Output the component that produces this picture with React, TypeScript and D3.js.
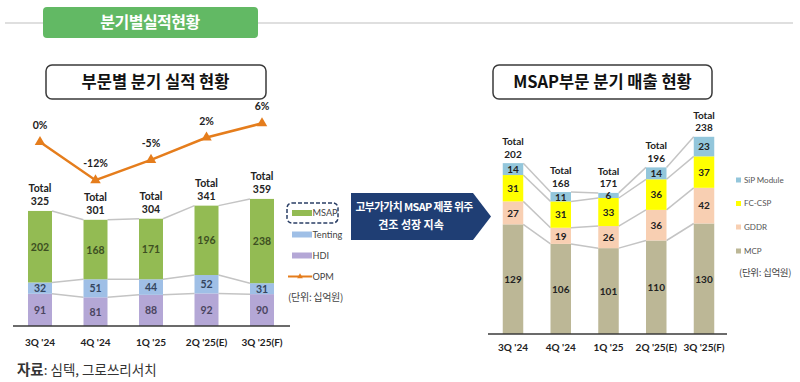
import React from "react";
import * as d3 from "d3";

const quarters = ["3Q '24", "4Q '24", "1Q '25", "2Q '25(E)", "3Q '25(F)"];
const hdi = [91, 81, 88, 92, 90];
const tenting = [32, 51, 44, 52, 31];
const msap = [202, 168, 171, 196, 238];
const totalLeft = [325, 301, 304, 341, 359];
const opm = [0.2, -11.6, -5.3, 1.6, 6.0];

const mcp = [129, 106, 101, 110, 130];
const gddr = [27, 19, 26, 36, 42];
const fccsp = [31, 31, 33, 36, 37];
const sip = [14, 11, 6, 14, 23];
const totalRight = [202, 168, 171, 196, 238];

const leftSeries = [
  { name: "HDI", values: hdi, color: "#b4a7d6", text: "#4a4560" },
  { name: "Tenting", values: tenting, color: "#9fbfe6", text: "#34455e" },
  { name: "MSAP", values: msap, color: "#93bb53", text: "#3d4f22" },
];
const rightSeries = [
  { name: "MCP", values: mcp, color: "#bcb796" },
  { name: "GDDR", values: gddr, color: "#f8cfb2" },
  { name: "FC-CSP", values: fccsp, color: "#ffff00" },
  { name: "SiP Module", values: sip, color: "#93c6db" },
];

const KR = "'Noto Sans CJK KR', 'Noto Sans', sans-serif";
const NUM = "Lato, 'Noto Sans', sans-serif";
const GRAY = "#c4c4c4";

function stackTops(series: { values: number[] }[]) {
  const out: number[][] = [];
  const acc = series[0].values.map(() => 0);
  series.forEach((s) => {
    const row = s.values.map((v, i) => {
      acc[i] += v;
      return acc[i];
    });
    out.push(row);
  });
  return out;
}

export default function App() {
  // left chart
  const xL = d3.scalePoint<string>().domain(quarters).range([40, 262]);
  const yL = d3.scaleLinear().domain([0, 400]).range([326, 184.4]);
  const yO = d3.scaleLinear().domain([0, 6]).range([142.7, 123.3]);
  const bwL = 24;
  const topsL = stackTops(leftSeries);
  const opmLine = d3
    .line<number>()
    .x((_, i) => xL(quarters[i]) as number)
    .y((d) => yO(d));
  const tri = d3.symbol().type(d3.symbolTriangle).size(48);

  // right chart
  const xR = d3.scalePoint<string>().domain(quarters).range([513, 704]);
  const yR = d3.scaleLinear().domain([0, 250]).range([334, 121.5]);
  const bwR = 20.5;
  const topsR = stackTops(rightSeries);

  const connectors = (
    tops: number[][],
    x: d3.ScalePoint<string>,
    y: d3.ScaleLinear<number, number>,
    bw: number,
    key: string
  ) =>
    tops.map((row, si) =>
      row.slice(0, -1).map((v, i) => (
        <line
          key={`${key}-${si}-${i}`}
          x1={(x(quarters[i]) as number) + bw / 2}
          y1={y(v)}
          x2={(x(quarters[i + 1]) as number) - bw / 2}
          y2={y(row[i + 1])}
          stroke={GRAY}
          strokeWidth={1.5}
        />
      ))
    );

  const topL = topsL[topsL.length - 1];
  const topR = topsR[topsR.length - 1];

  return (
    <svg
      width={800}
      height={382}
      style={{ position: "absolute", left: 0, top: 0, background: "#fff" }}
    >
      {/* header */}
      <line x1={5} y1={23} x2={793} y2={23} stroke="#d4d4d4" strokeWidth={1.5} />
      <rect x={43} y={7} width={215} height={31} rx={4} fill="#62b964" />
      <text x={150} y={27.5} textAnchor="middle" fill="#fff" fontFamily={KR} fontWeight={700} fontSize={16} letterSpacing={-0.5}>
        분기별실적현황
      </text>

      {/* subtitles */}
      <rect x={46} y={65} width={220} height={34} rx={6} fill="#fff" stroke="#3a3a3a" strokeWidth={1.5} />
      <text x={155.5} y={88} textAnchor="middle" fill="#111" fontFamily={KR} fontWeight={700} fontSize={16.5}>
        부문별 분기 실적 현황
      </text>
      <rect x={493} y={65} width={219} height={34} rx={6} fill="#fff" stroke="#3a3a3a" strokeWidth={1.5} />
      <text x={602.5} y={88} textAnchor="middle" fill="#111" fontFamily={KR} fontWeight={700} fontSize={16.5}>
        MSAP부문 분기 매출 현황
      </text>

      {/* left connectors */}
      {connectors(topsL, xL, yL, bwL, "l")}
      {/* left bars */}
      {leftSeries.map((s, si) =>
        s.values.map((v, i) => {
          const top = topsL[si][i];
          const bottom = top - v;
          const cx = xL(quarters[i]) as number;
          return (
            <g key={`lb-${si}-${i}`}>
              <rect x={cx - bwL / 2} y={yL(top)} width={bwL} height={yL(bottom) - yL(top)} fill={s.color} />
              <text
                x={cx}
                y={(yL(top) + yL(bottom)) / 2 + 4}
                textAnchor="middle"
                fill={s.text}
                fontFamily={NUM}
                fontWeight={700}
                fontSize={10.5}
              >
                {v}
              </text>
            </g>
          );
        })
      )}
      {totalLeft.map((t, i) => {
        const cx = xL(quarters[i]) as number;
        return (
          <g key={`lt-${i}`} fontFamily={NUM} fontWeight={700} fontSize={10.5} fill="#222" textAnchor="middle">
            <text x={cx} y={yL(topL[i]) - 19}>Total</text>
            <text x={cx} y={yL(topL[i]) - 6}>{t}</text>
          </g>
        );
      })}
      {/* OPM line */}
      <path d={opmLine(opm) || ""} fill="none" stroke="#e57d1c" strokeWidth={2.5} />
      {opm.map((v, i) => (
        <g key={`op-${i}`}>
          <path d={tri() || ""} transform={`translate(${xL(quarters[i])},${yO(v)})`} fill="#e57d1c" />
          <text
            x={xL(quarters[i])}
            y={yO(v) - 13}
            textAnchor="middle"
            fontFamily={NUM}
            fontWeight={700}
            fontSize={10.5}
            fill="#222"
          >
            {`${Math.round(v)}%`}
          </text>
        </g>
      ))}
      {/* left axis */}
      <line x1={13} y1={326} x2={290} y2={326} stroke="#3a3a3a" strokeWidth={1.5} />
      {quarters.map((q, i) => (
        <text
          key={`lx-${i}`}
          x={xL(q)}
          y={346}
          textAnchor="middle"
          fontFamily={NUM}
          fontWeight={700}
          fontSize={10}
          fill="#222"
        >
          {q}
        </text>
      ))}

      {/* left legend */}
      <rect x={287} y={203} width={51} height={20} rx={5} fill="none" stroke="#2b3f66" strokeWidth={1.5} strokeDasharray="4 2" />
      {[
        { name: "MSAP", color: "#93bb53", y: 213 },
        { name: "Tenting", color: "#9fbfe6", y: 234.5 },
        { name: "HDI", color: "#b4a7d6", y: 255.5 },
      ].map((l) => (
        <g key={l.name}>
          <rect x={292} y={l.y - 3} width={20} height={6} fill={l.color} />
          <text x={312.5} y={l.y + 3.3} fontFamily={NUM} fontSize={9.2} fill="#444">
            {l.name}
          </text>
        </g>
      ))}
      <line x1={288} y1={276.5} x2={312} y2={276.5} stroke="#e57d1c" strokeWidth={2} />
      <path d={d3.symbol().type(d3.symbolTriangle).size(14)() || ""} transform="translate(300,276.5)" fill="#e57d1c" />
      <text x={312.5} y={279.8} fontFamily={NUM} fontSize={9.2} fill="#444">
        OPM
      </text>
      <text x={288} y={300.5} fontFamily={KR} fontSize={10} fill="#444" letterSpacing={-0.3}>
        (단위: 십억원)
      </text>

      {/* arrow */}
      <polygon points="351,193 473,193 491,216.5 473,240 351,240" fill="#1f3e74" />
      <text x={414} y={211} textAnchor="middle" fill="#fff" fontFamily={KR} fontWeight={700} fontSize={10.8} letterSpacing={-0.6}>
        고부가가치 MSAP 제품 위주
      </text>
      <text x={411} y={229} textAnchor="middle" fill="#fff" fontFamily={KR} fontWeight={700} fontSize={11}>
        견조 성장 지속
      </text>

      {/* right connectors */}
      {connectors(topsR, xR, yR, bwR, "r")}
      {rightSeries.map((s, si) =>
        s.values.map((v, i) => {
          const top = topsR[si][i];
          const bottom = top - v;
          const cx = xR(quarters[i]) as number;
          return (
            <g key={`rb-${si}-${i}`}>
              <rect x={cx - bwR / 2} y={yR(top)} width={bwR} height={yR(bottom) - yR(top)} fill={s.color} />
              <text
                x={cx}
                y={(yR(top) + yR(bottom)) / 2 + 3.8}
                textAnchor="middle"
                fill="#222"
                fontFamily={NUM}
                fontWeight={700}
                fontSize={10}
              >
                {v}
              </text>
            </g>
          );
        })
      )}
      {totalRight.map((t, i) => {
        const cx = xR(quarters[i]) as number;
        return (
          <g key={`rt-${i}`} fontFamily={NUM} fontWeight={700} fontSize={10} fill="#222" textAnchor="middle">
            <text x={cx} y={yR(topR[i]) - 18}>Total</text>
            <text x={cx} y={yR(topR[i]) - 5.5}>{t}</text>
          </g>
        );
      })}
      <line x1={488} y1={334} x2={727} y2={334} stroke="#3a3a3a" strokeWidth={1.5} />
      {quarters.map((q, i) => (
        <text
          key={`rx-${i}`}
          x={xR(q)}
          y={350.5}
          textAnchor="middle"
          fontFamily={NUM}
          fontWeight={700}
          fontSize={10}
          fill="#222"
        >
          {q}
        </text>
      ))}

      {/* right legend */}
      {[...rightSeries].reverse().map((s, i) => {
        const ly = [180, 203.5, 227, 251][i];
        return (
          <g key={`rl-${s.name}`}>
            <rect x={736} y={ly - 2.5} width={5} height={5} fill={s.color} />
            <text x={744} y={ly + 2.8} fontFamily={NUM} fontSize={8} fill="#555">
              {s.name}
            </text>
          </g>
        );
      })}
      <text x={739} y={275.5} fontFamily={KR} fontSize={9.5} fill="#444" letterSpacing={-0.3}>
        (단위: 십억원)
      </text>

      {/* source */}
      <text x={17} y={375} fontFamily={KR} fill="#333">
        <tspan fontWeight={700} fontSize={14.5}>자료</tspan>
        <tspan fontSize={13.5}>: 심텍, 그로쓰리서치</tspan>
      </text>
    </svg>
  );
}
